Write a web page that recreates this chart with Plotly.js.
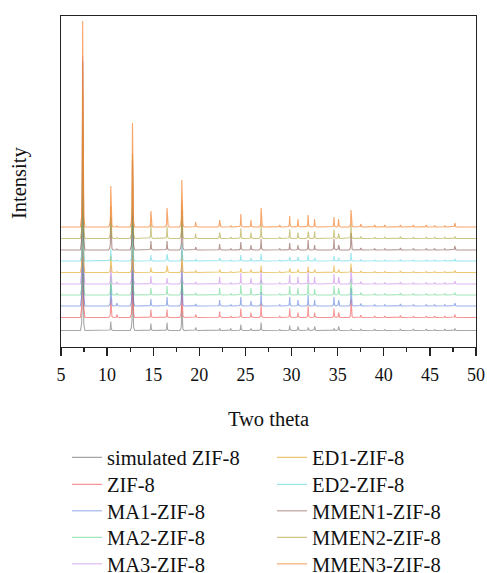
<!DOCTYPE html>
<html>
<head>
<meta charset="utf-8">
<script src="https://cdn.plot.ly/plotly-3.0.1.min.js"></script>
<style>html,body{margin:0;padding:0;background:#fff;}#chart{width:487px;height:573px;}</style>
</head>
<body>
<div id="chart"></div>
<script>
// Peak positions (two theta, degrees)
const peaks = [7.35, 10.4, 11.05, 12.75, 14.75, 16.5, 18.1, 19.6, 22.2, 23.4, 24.5, 25.6, 26.7, 28.7, 29.8, 30.7, 31.8, 32.5, 34.6, 35.1, 36.45, 37.5, 39.0, 40.1, 41.8, 43.2, 44.6, 45.5, 46.6, 47.7];

const seriesNames = ["simulated ZIF-8", "ZIF-8", "MA1-ZIF-8", "MA2-ZIF-8", "MA3-ZIF-8", "ED1-ZIF-8", "ED2-ZIF-8", "MMEN1-ZIF-8", "MMEN2-ZIF-8", "MMEN3-ZIF-8"];

// Vertical offsets (stacking) of each pattern
const offsets = [16.5, 29.5, 41, 52, 63, 74.5, 86, 97, 108.5, 120];

// Peak intensities (a.u.) per pattern, same order as peaks
const hSimulated = [130, 9, 0, 60, 7, 8, 25, 3, 2, 2, 6, 2, 8, 1, 5, 4, 3, 4, 2, 4, 1.5, 1.5, 1.5, 1, 1.5, 1.5, 1.5, 1, 1.5, 2];
const hZIF8      = [177, 19, 3, 70, 8, 8, 35, 3, 6, 1.5, 9, 5, 14, 1.5, 9, 5, 12, 5, 9, 5, 18, 2.5, 1.5, 1.5, 2, 1.5, 1.5, 1.5, 1.5, 3];
const hMA1       = [176, 22, 3, 75, 7, 9, 35, 2, 6, 1.5, 9, 5, 14, 1.5, 9, 6, 11, 6, 9, 6, 18, 2.5, 1.5, 1.5, 2, 1.5, 1.5, 1.5, 1.5, 3];
const hMA2       = [135, 19, 2, 70, 7, 9, 30, 2, 7, 1.5, 10, 7, 15, 1.5, 9, 7, 12, 6, 9, 7, 16, 2.5, 1.5, 1.5, 2, 1.5, 1.5, 1.5, 1.5, 2.5];
const hMA3       = [228, 18, 2, 75, 8, 6, 35, 2, 7, 1.5, 11, 6, 14, 1.5, 9, 7, 13, 7, 10, 7, 16, 2.5, 1.5, 1.5, 2, 1.5, 1.5, 1.5, 1.5, 3];
const hED1       = [151, 17, 1, 55, 5, 7, 22, 2, 3, 1, 4, 3, 7, 1, 4, 3, 6, 3, 7, 3, 9, 1.5, 1, 1, 1.5, 1, 1, 1, 1, 2];
const hED2       = [111, 12, 1, 45, 6, 7, 18, 2, 3, 1, 6, 3, 7, 1, 4, 4, 6, 3, 5, 3, 8, 1.5, 1, 1, 1.5, 1, 1, 1, 1, 2];
const hMMEN1     = [189, 33, 1, 90, 9, 9, 40, 3, 6, 1.5, 8, 5, 11, 1.5, 7, 5, 10, 5, 11, 5, 17, 2, 1.5, 1.5, 2, 1.5, 1.5, 1.5, 1.5, 4];
const hMMEN2     = [148, 32, 1, 85, 15, 12, 38, 5, 6, 1.5, 10, 6, 15, 1.5, 9, 6, 7, 7, 9, 5, 15, 2, 1.5, 1.5, 2, 1.5, 1.5, 1.5, 1.5, 2];
const hMMEN3     = [206, 41, 1, 104, 16, 19, 47, 5, 7, 1.5, 13, 7, 19, 2, 11, 8, 12, 8, 10, 8, 17, 3, 2, 2, 2, 2, 2, 1.5, 1.5, 4];

const heights = [hSimulated, hZIF8, hMA1, hMA2, hMA3, hED1, hED2, hMMEN1, hMMEN2, hMMEN3];

const colors = [
  "rgba(130,130,130,0.7)",
  "rgba(245,90,90,0.65)",
  "rgba(70,110,215,0.55)",
  "rgba(70,205,120,0.5)",
  "rgba(195,120,230,0.55)",
  "rgba(228,170,40,0.65)",
  "rgba(70,210,225,0.55)",
  "rgba(130,80,70,0.6)",
  "rgba(170,160,50,0.6)",
  "rgba(245,135,55,0.75)"
];

// peak shape (style)
const shapeDx = [-0.25, -0.12, -0.05, 0, 0.05, 0.12, 0.25];
const shapeFr = [0, 0.05, 0.18, 1, 0.18, 0.05, 0];

const legendIds = ["legend", "legend2", "legend3", "legend4", "legend5", "legend6", "legend7", "legend8", "legend9", "legend10"];

const traces = seriesNames.map((name, i) => {
  const xs = [5], ys = [offsets[i]];
  peaks.forEach((p, k) => {
    shapeDx.forEach((d, j) => {
      xs.push(p + d);
      ys.push(offsets[i] + heights[i][k] * shapeFr[j]);
    });
  });
  xs.push(50); ys.push(offsets[i]);
  return {
    x: xs, y: ys, name: name, type: "scatter", mode: "lines",
    line: {color: colors[i], width: 1.1},
    legend: legendIds[i]
  };
});

const fontFam = "Liberation Serif, Times New Roman, serif";
const legFont = {family: fontFam, size: 20.5, color: "#111"};
const rowY = [457.5, 484.5, 511, 537.5, 564];
const colX = [67, 272];

const layout = {
  width: 487, height: 573,
  margin: {l: 61, r: 11, t: 16, b: 226, autoexpand: false},
  paper_bgcolor: "#fff", plot_bgcolor: "#fff",
  font: {family: fontFam, color: "#111"},
  showlegend: true,
  xaxis: {
    range: [5, 50], dtick: 5, tick0: 5, ticks: "outside", ticklen: 8, tickwidth: 1.3,
    tickcolor: "#222", showline: true, linecolor: "#222", linewidth: 1.3, mirror: true,
    showgrid: false, zeroline: false, ticklabelstandoff: 3,
    tickfont: {family: fontFam, size: 18, color: "#111"},
    minor: {ticks: "outside", ticklen: 4, dtick: 2.5, tick0: 5, tickwidth: 1.3, tickcolor: "#222"},
    title: {text: "Two theta", font: {family: fontFam, size: 20.5, color: "#111"}, standoff: 27}
  },
  yaxis: {
    range: [0, 331], showticklabels: false, ticks: "", showline: true, linecolor: "#222",
    linewidth: 1.3, mirror: true, showgrid: false, zeroline: false
  },
  annotations: [{
    text: "Intensity", xref: "paper", yref: "paper",
    x: (19 - 61) / 415, y: (347 - 183) / 331, xanchor: "center", yanchor: "middle",
    textangle: -90, showarrow: false, font: {family: fontFam, size: 20.5, color: "#111"}
  }]
};

legendIds.forEach((id, i) => {
  const col = i < 5 ? 0 : 1, row = i % 5;
  layout[id] = {
    xref: "container", yref: "container", xanchor: "left", yanchor: "middle",
    x: colX[col] / 487, y: 1 - rowY[row] / 573,
    font: legFont, bgcolor: "rgba(0,0,0,0)", borderwidth: 0
  };
});

Plotly.newPlot("chart", traces, layout, {displayModeBar: false, staticPlot: true});
</script>
</body>
</html>
